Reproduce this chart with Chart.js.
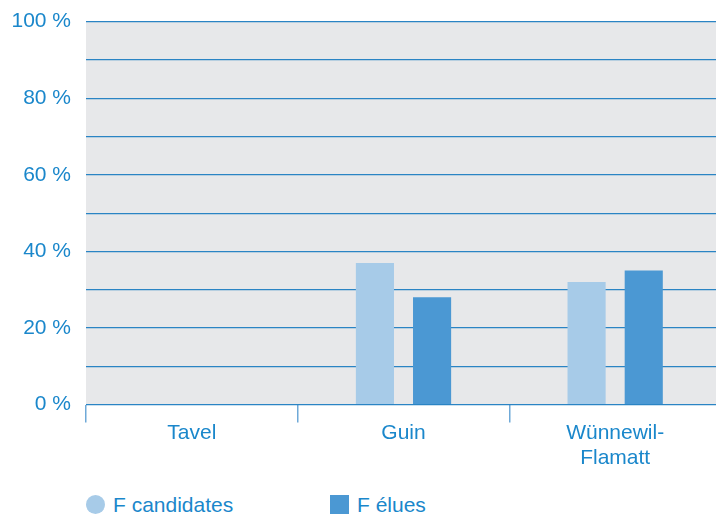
<!DOCTYPE html>
<html>
<head>
<meta charset="utf-8">
<script src="https://cdn.jsdelivr.net/npm/chart.js@4"></script>
<style>
  body { margin: 0; background: #fff; font-family: "Liberation Sans", Arial, sans-serif; }
  #wrap { position: relative; width: 716px; height: 514px; overflow: hidden; }
  #chart { position: absolute; left: 0; top: -6px; }
  #legend { position: absolute; top: 493px; left: 0; color: #1a87cb; font-size: 21px; }
  .item { position: absolute; top: 0; white-space: nowrap; line-height: 24px; }
  .item span.mk { position: absolute; top: 2px; width: 19px; height: 19px; }
</style>
</head>
<body>
<div id="wrap">
  <canvas id="chart" width="721" height="475"></canvas>
  <div id="legend"></div>
</div>
<script>
// Data
const categories = ['Tavel', 'Guin', ['Wünnewil-', 'Flamatt']];
const candidates = [0, 37, 32];
const elues = [0, 28, 35];
const seriesNames = ['F candidates', 'F élues'];
const yTicks = [0, 20, 40, 60, 80, 100];

const textColor = '#1a87cb';
const gridColor = '#2a84c4';
const lightBlue = '#a7cbe8';
const darkBlue = '#4b98d3';

// gray plot background
const plotBackground = {
  id: 'plotBackground',
  beforeDraw(chart) {
    const { ctx, chartArea } = chart;
    ctx.save();
    ctx.fillStyle = '#e7e8ea';
    ctx.fillRect(chartArea.left, chartArea.top, chartArea.right - chartArea.left, chartArea.bottom - chartArea.top);
    ctx.restore();
  }
};

const chart = new Chart(document.getElementById('chart'), {
  type: 'bar',
  data: {
    labels: categories,
    datasets: [
      { label: seriesNames[0], data: candidates, backgroundColor: lightBlue },
      { label: seriesNames[1], data: elues, backgroundColor: darkBlue }
    ]
  },
  options: {
    responsive: false,
    animation: false,
    categoryPercentage: 0.54,
    barPercentage: 0.667,
    layout: { padding: 0 },
    plugins: {
      legend: { display: false },
      tooltip: { enabled: false }
    },
    scales: {
      x: {
        grid: {
          offset: true,
          drawOnChartArea: false,
          drawTicks: true,
          tickLength: 18,
          color: '#6fa9d8',
          lineWidth: 1.5
        },
        border: { display: false },
        ticks: {
          color: textColor,
          font: { family: '"Liberation Sans", Arial, sans-serif', size: 21 },
          padding: -2,
          maxRotation: 0
        }
      },
      y: {
        min: 0,
        max: 100,
        afterFit: scale => { scale.width = 86; },
        grid: {
          color: gridColor,
          lineWidth: 1.2,
          drawTicks: false
        },
        border: { display: false },
        ticks: {
          stepSize: 10,
          color: textColor,
          padding: 15,
          font: { family: '"Liberation Sans", Arial, sans-serif', size: 21 },
          callback: v => yTicks.includes(v) ? v + ' %' : ''
        }
      }
    }
  },
  plugins: [plotBackground]
});

// legend as HTML
const legend = document.getElementById('legend');
const legendItems = [
  { name: seriesNames[0], color: lightBlue, round: true, x: 86 },
  { name: seriesNames[1], color: darkBlue, round: false, x: 330 }
];
legendItems.forEach(it => {
  const d = document.createElement('div');
  d.className = 'item';
  d.style.left = it.x + 'px';
  d.style.paddingLeft = '27px';
  d.innerHTML = '<span class="mk" style="left:0;background:' + it.color + ';border-radius:' + (it.round ? '50%' : '0') + '"></span>' + it.name;
  legend.appendChild(d);
});
</script>
</body>
</html>
